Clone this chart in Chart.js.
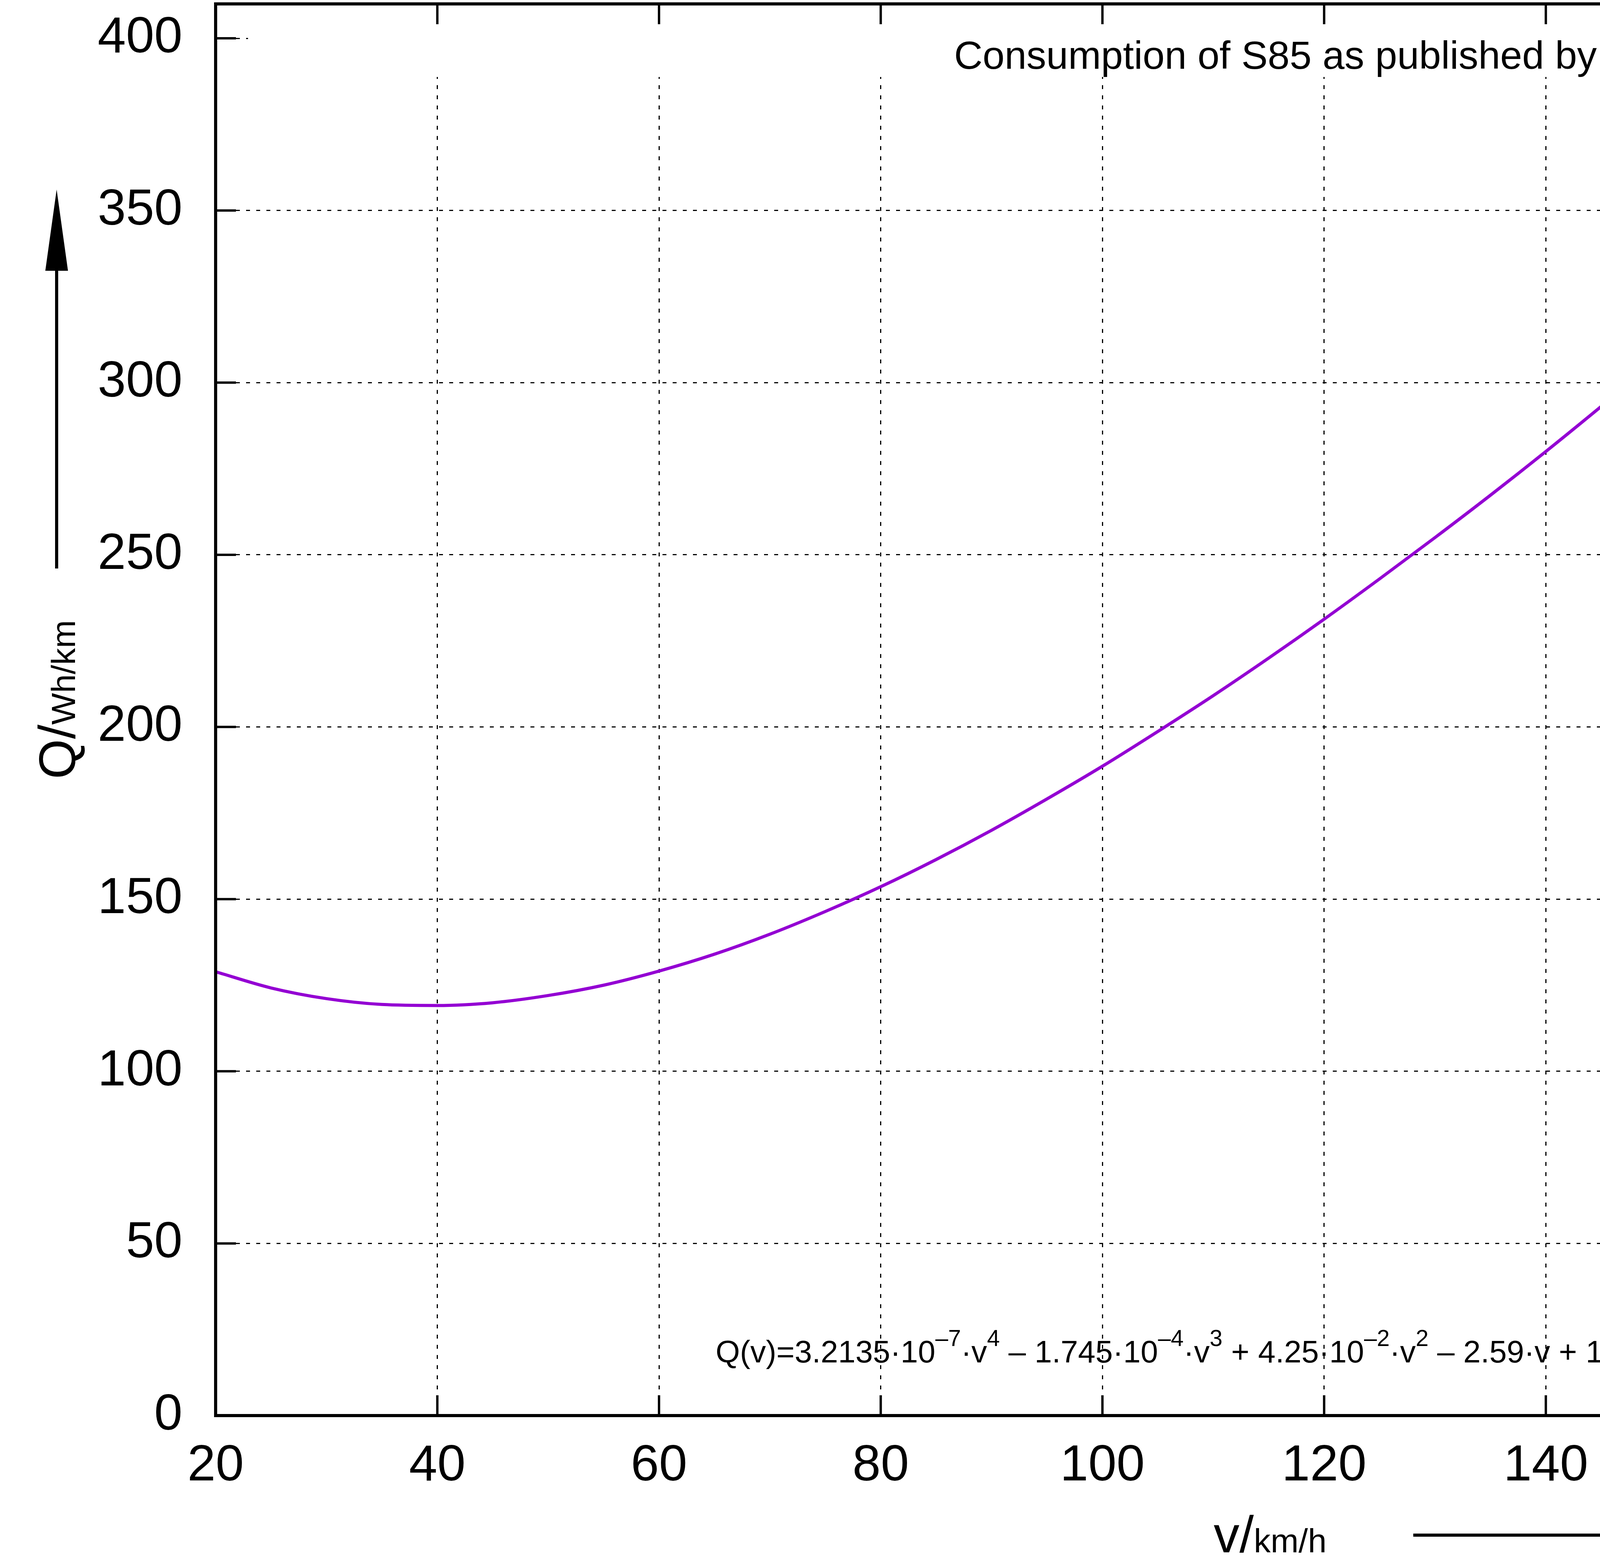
<!DOCTYPE html>
<html lang="en">
<head>
<meta charset="UTF-8">
<title>Consumption of S85</title>
<script src="https://cdn.jsdelivr.net/npm/chart.js"></script>
<style>
  html, body { margin: 0; padding: 0; background: #fff; overflow: hidden; }
  #wrap { width: 5800px; height: 4008px; position: relative; }
  #chart { display: block; }
</style>
</head>
<body>
<div id="wrap"><canvas id="chart"></canvas></div>
<script>
// speed in km/h, consumption in Wh/km
const speeds = [20, 25, 30, 35, 40, 45, 50, 55, 60, 65, 70, 75, 80, 85, 90, 95, 100, 105,
                110, 115, 120, 125, 130, 135, 140, 145, 150, 155, 160, 165, 170, 175, 180, 185, 190];
const consumption = [128.9, 124.2, 121.1, 119.4, 119.1, 119.9, 122.0, 125.0, 129.1, 134.0, 139.8,
                     146.4, 153.6, 161.5, 170.0, 179.1, 188.6, 198.7, 209.1, 220.0, 231.3, 243.0,
                     255.0, 267.3, 280.0, 293.1, 306.5, 320.3, 334.5, 349.0, 364.0, 379.5, 395.5,
                     412.0, 429.0];
const xTickValues = [20, 40, 60, 80, 100, 120, 140, 160, 180, 200];
const yTickValues = [0, 50, 100, 150, 200, 250, 300, 350, 400];
const legendLabel = 'Consumption of S85 as published by Tesla, approximation';
// [text, superscript?]
const formulaParts = [
  ['Q(v)=3.2135·10', false], ['–7', true], ['·v', false], ['4', true],
  [' – 1.745·10', false], ['–4', true], ['·v', false], ['3', true],
  [' + 4.25·10', false], ['–2', true], ['·v', false], ['2', true],
  [' – 2.59·v + 165', false]
];
const yTitle = ['Q/', 'Wh/km'];
const xTitle = ['v/', 'km/h'];

const FONT = '"Liberation Sans", Arial, Helvetica, sans-serif';
const lineColor = '#9400d3';

function drawArrow(ctx, x0, y0, x1, y1) {
  const len = Math.hypot(x1 - x0, y1 - y0);
  const ux = (x1 - x0) / len, uy = (y1 - y0) / len;
  const headLen = 208, halfW = 29;
  const bx = x1 - ux * headLen, by = y1 - uy * headLen;
  ctx.strokeStyle = '#000';
  ctx.lineWidth = 8;
  ctx.beginPath();
  ctx.moveTo(x0, y0);
  ctx.lineTo(bx, by);
  ctx.stroke();
  ctx.fillStyle = '#000';
  ctx.beginPath();
  ctx.moveTo(x1, y1);
  ctx.lineTo(bx - uy * halfW, by + ux * halfW);
  ctx.lineTo(bx + uy * halfW, by - ux * halfW);
  ctx.closePath();
  ctx.fill();
}

function noPadding(scale) {
  scale.paddingTop = 0;
  scale.paddingBottom = 0;
  scale.paddingLeft = 0;
  scale.paddingRight = 0;
}

const gnuplotDecor = {
  id: 'gnuplotDecor',
  beforeDatasetsDraw(chart) {
    // opaque key box hides the grid behind it
    const ctx = chart.ctx;
    const a = chart.chartArea;
    ctx.save();
    ctx.fillStyle = '#fff';
    ctx.fillRect(635, a.top, 5580 - 635, 197 - a.top);
    ctx.restore();
  },
  afterDatasetsDraw(chart) {
    const ctx = chart.ctx;
    const a = chart.chartArea;
    const xs = chart.scales.x, ys = chart.scales.y;
    ctx.save();

    // border
    ctx.strokeStyle = '#000';
    ctx.lineWidth = 8;
    ctx.lineJoin = 'miter';
    ctx.strokeRect(a.left, a.top, a.right - a.left, a.bottom - a.top);

    // inward, mirrored tics
    ctx.lineWidth = 6;
    ctx.beginPath();
    ys.ticks.forEach(t => {
      const y = ys.getPixelForValue(t.value);
      ctx.moveTo(a.left, y); ctx.lineTo(a.left + 52, y);
      ctx.moveTo(a.right, y); ctx.lineTo(a.right - 52, y);
    });
    xs.ticks.forEach(t => {
      const x = xs.getPixelForValue(t.value);
      ctx.moveTo(x, a.bottom); ctx.lineTo(x, a.bottom - 52);
      ctx.moveTo(x, a.top); ctx.lineTo(x, a.top + 52);
    });
    ctx.stroke();

    // key
    ctx.fillStyle = '#000';
    ctx.font = '101px ' + FONT;
    ctx.textAlign = 'right';
    ctx.textBaseline = 'alphabetic';
    ctx.fillText(legendLabel, 5042, 176);
    ctx.strokeStyle = lineColor;
    ctx.lineWidth = 8;
    ctx.beginPath();
    ctx.moveTo(5126, 129); ctx.lineTo(5499, 129);
    ctx.stroke();

    // formula label
    ctx.textAlign = 'left';
    let fx = 1832;
    const fy = 3487;
    formulaParts.forEach(([txt, sup]) => {
      ctx.font = (sup ? '59px ' : '80px ') + FONT;
      ctx.fillText(txt, fx, sup ? fy - 42 : fy);
      fx += ctx.measureText(txt).width;
    });

    // y title, rotated
    ctx.save();
    ctx.translate(192, 1994);
    ctx.rotate(-Math.PI / 2);
    ctx.font = '132px ' + FONT;
    ctx.fillText(yTitle[0], 0, 0);
    let w = ctx.measureText(yTitle[0]).width;
    ctx.font = '86px ' + FONT;
    ctx.fillText(yTitle[1], w, 0);
    ctx.restore();

    // x title
    ctx.font = '132px ' + FONT;
    ctx.fillText(xTitle[0], 3107, 3973);
    w = ctx.measureText(xTitle[0]).width;
    ctx.font = '86px ' + FONT;
    ctx.fillText(xTitle[1], 3107 + w, 3973);

    // axis arrows
    drawArrow(ctx, 145, 1455, 145, 485);
    drawArrow(ctx, 3618, 3929, 4513, 3929);

    ctx.restore();
  }
};

new Chart(document.getElementById('chart'), {
  type: 'line',
  data: {
    datasets: [{
      label: legendLabel,
      data: speeds.map((v, i) => ({ x: v, y: consumption[i] })),
      borderColor: lineColor,
      borderWidth: 8,
      pointRadius: 0,
      fill: false,
      cubicInterpolationMode: 'monotone'
    }]
  },
  options: {
    responsive: true,
    maintainAspectRatio: false,
    devicePixelRatio: 1,
    animation: false,
    layout: { padding: { top: 10, right: 140, left: 0, bottom: 0 } },
    plugins: { legend: { display: false }, tooltip: { enabled: false } },
    scales: {
      x: {
        type: 'linear',
        min: 20, max: 200,
        afterBuildTicks(scale) { scale.ticks = xTickValues.map(v => ({ value: v })); },
        afterFit(scale) { scale.height = 4008 - 3623; noPadding(scale); },
        ticks: { color: '#000', padding: 52, maxRotation: 0, autoSkip: false,
                 font: { family: FONT, size: 130 } },
        grid: { color: '#000', lineWidth: 3, drawTicks: false },
        border: { display: false, dash: [10, 16] }
      },
      y: {
        min: 0, max: 410,
        afterBuildTicks(scale) { scale.ticks = yTickValues.map(v => ({ value: v })); },
        afterFit(scale) { scale.width = 552; noPadding(scale); },
        ticks: { color: '#000', padding: 85, autoSkip: false,
                 font: { family: FONT, size: 130 } },
        grid: { color: '#000', lineWidth: 3, drawTicks: false },
        border: { display: false, dash: [10, 16] }
      }
    }
  },
  plugins: [gnuplotDecor]
});
</script>
</body>
</html>
